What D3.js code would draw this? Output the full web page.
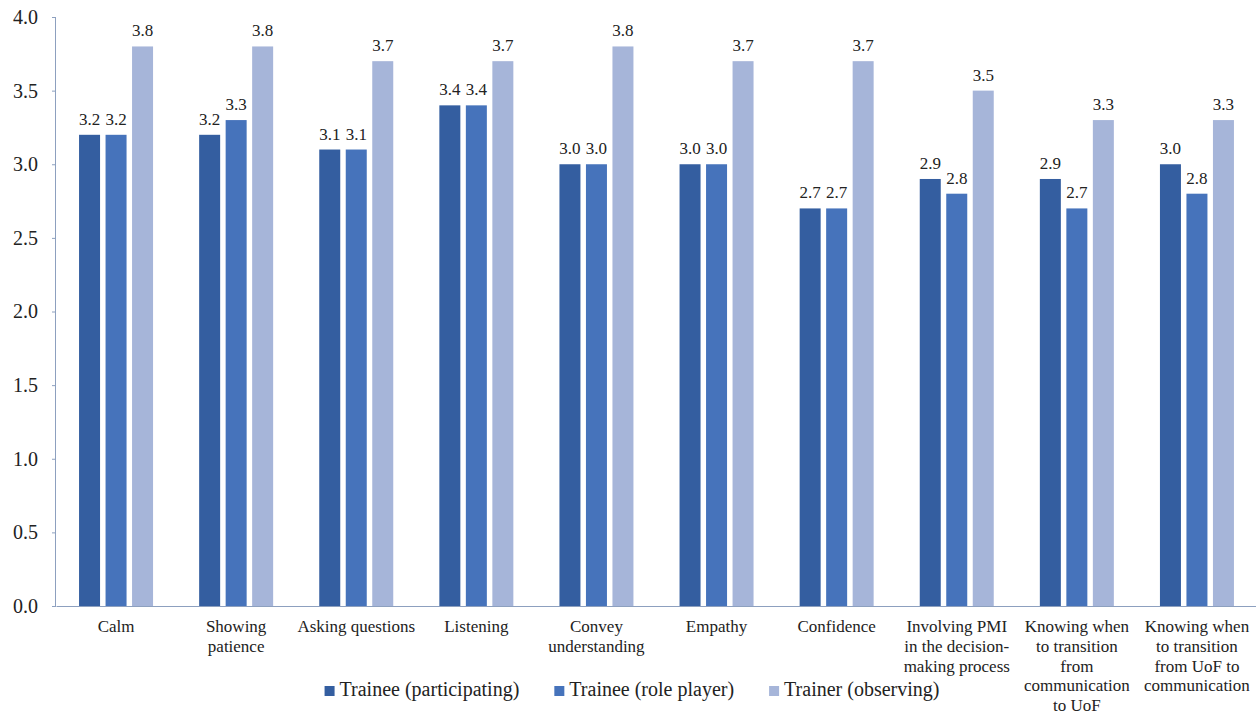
<!DOCTYPE html>
<html>
<head>
<meta charset="utf-8">
<script src="https://cdn.jsdelivr.net/npm/d3@7"></script>
<style>
  html, body { margin: 0; padding: 0; background: #fff; }
  svg { display: block; }
  svg text { font-family: "Liberation Serif", "Times New Roman", serif; }
</style>
</head>
<body>
<svg id="chart" width="1256" height="714"></svg>
<script>
// Skill categories (each entry holds the wrapped lines of its axis label)
const categories = [
  ["Calm"],
  ["Showing", "patience"],
  ["Asking questions"],
  ["Listening"],
  ["Convey", "understanding"],
  ["Empathy"],
  ["Confidence"],
  ["Involving PMI", "in the decision-", "making process"],
  ["Knowing when", "to transition", "from", "communication", "to UoF"],
  ["Knowing when", "to transition", "from UoF to", "communication"]
];

const seriesNames = ["Trainee (participating)", "Trainee (role player)", "Trainer (observing)"];

// Mean ratings per series, in category order
const traineeParticipating = [3.2, 3.2, 3.1, 3.4, 3.0, 3.0, 2.7, 2.9, 2.9, 3.0];
const traineeRolePlayer    = [3.2, 3.3, 3.1, 3.4, 3.0, 3.0, 2.7, 2.8, 2.7, 2.8];
const trainerObserving     = [3.8, 3.8, 3.7, 3.7, 3.8, 3.7, 3.7, 3.5, 3.3, 3.3];

const yTicks = [0, 0.5, 1.0, 1.5, 2.0, 2.5, 3.0, 3.5, 4.0];

const seriesValues = [traineeParticipating, traineeRolePlayer, trainerObserving];
const colors = ["#345ea0", "#4673bb", "#a6b5d9"];

const FONT = "'Liberation Serif', 'Times New Roman', serif";
const svg = d3.select("#chart");
const axisColor = "#8da0bf";

const x = d3.scaleBand()
  .domain(d3.range(categories.length))
  .range([56, 1257]);

const y = d3.scaleLinear().domain([0, 4]).range([606, 17]);

const barW = 21;
const barStep = 26.5;

// Bars with value labels
const groups = svg.append("g")
  .attr("font-family", FONT)
  .selectAll("g")
  .data(d3.range(categories.length))
  .join("g")
  .attr("transform", i => `translate(${x(i) + x.bandwidth() / 2},0)`);

seriesValues.forEach((vals, s) => {
  const off = (s - 1) * barStep;
  groups.append("rect")
    .attr("x", off - barW / 2)
    .attr("y", i => y(vals[i]))
    .attr("width", barW)
    .attr("height", i => y(0) - y(vals[i]))
    .attr("fill", colors[s]);
  groups.append("text")
    .attr("x", off)
    .attr("y", i => y(vals[i]) - 10)
    .attr("text-anchor", "middle")
    .attr("font-family", FONT)
    .attr("font-size", 17)
    .attr("fill", "#222")
    .text(i => vals[i].toFixed(1));
});

// Y axis
const yAxis = svg.append("g")
  .attr("transform", "translate(56,0)")
  .call(d3.axisLeft(y).tickValues(yTicks).tickFormat(d3.format(".1f")).tickSize(4).tickPadding(14));
yAxis.attr("font-family", FONT);
yAxis.select(".domain").attr("stroke", axisColor).attr("d", `M-0.5,${y(4)}V${y(0)}`);
yAxis.selectAll(".tick line").attr("stroke", axisColor);
yAxis.selectAll(".tick text")
  .attr("font-family", FONT)
  .attr("font-size", 20)
  .attr("fill", "#222");

// X axis baseline
const xAxis = svg.append("g")
  .attr("transform", `translate(0,${y(0)})`)
  .call(d3.axisBottom(x).tickSize(0).tickFormat(""));
xAxis.select(".domain").attr("stroke", axisColor);

// Category labels
const catLabels = svg.append("g").selectAll("text")
  .data(categories)
  .join("text")
  .attr("text-anchor", "middle")
  .attr("font-family", FONT)
  .attr("font-size", 17)
  .attr("fill", "#222")
  .attr("transform", (d, i) => `translate(${x(i) + x.bandwidth() / 2},632)`);
catLabels.selectAll("tspan")
  .data(d => d)
  .join("tspan")
  .attr("x", 0)
  .attr("y", (d, j) => j * 19.8)
  .text(d => d);

// Legend
const legend = svg.append("g").attr("font-family", FONT).attr("font-size", 20).attr("fill", "#222");
const items = legend.selectAll("g")
  .data(seriesNames)
  .join("g");
items.append("rect")
  .attr("x", 0).attr("y", -10)
  .attr("width", 10).attr("height", 10)
  .attr("fill", (d, i) => colors[i]);
items.append("text")
  .attr("x", 15).attr("y", 0)
  .attr("font-family", FONT)
  .text(d => d);
let cursor = 0;
const positions = [];
items.each(function () {
  const w = d3.select(this).select("text").node().getComputedTextLength() + 15;
  positions.push(cursor);
  cursor += w + 35;
});
const totalW = cursor - 35;
const startX = 632 - totalW / 2;
items.attr("transform", (d, i) => `translate(${startX + positions[i]},696)`);
</script>
</body>
</html>
